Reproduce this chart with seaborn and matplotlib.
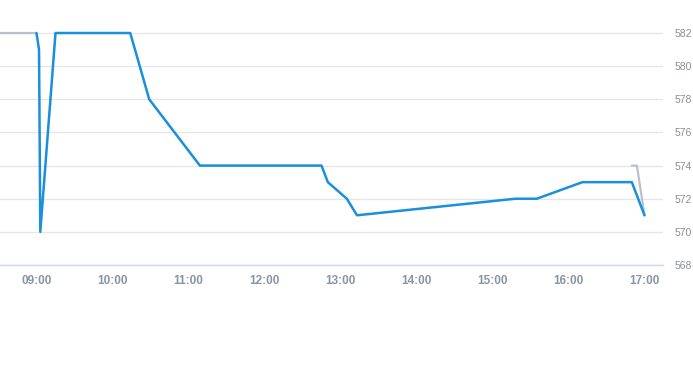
import matplotlib
matplotlib.use("Agg")
import matplotlib.pyplot as plt
import matplotlib.dates as mdates
import seaborn as sns
import pandas as pd

# Main (blue) series
main_times = ["09:00", "09:02", "09:03", "09:15", "10:14", "10:29", "10:49", "11:09",
              "12:45", "12:50", "13:05", "13:13", "15:18", "15:35", "16:11", "16:50", "17:00"]
main_values = [582, 581, 570, 582, 582, 578, 576, 574,
               574, 573, 572, 571, 572, 572, 573, 573, 571]

# Grey reference segments
grey_pre_times = ["08:00", "09:00"]
grey_pre_values = [582, 582]
grey_post_times = ["16:50", "16:54", "17:00"]
grey_post_values = [574, 574, 571]

y_ticks = [568, 570, 572, 574, 576, 578, 580, 582]
x_ticks = ["09:00", "10:00", "11:00", "12:00", "13:00", "14:00", "15:00", "16:00", "17:00"]

day = "2024-01-02 "
def to_dt(lst):
    return pd.to_datetime([day + t for t in lst])

main_df = pd.DataFrame({"time": to_dt(main_times), "value": main_values})
pre_df = pd.DataFrame({"time": to_dt(grey_pre_times), "value": grey_pre_values})
post_df = pd.DataFrame({"time": to_dt(grey_post_times), "value": grey_post_values})

sns.set_style("white")
plt.rcParams['font.family'] = ['Liberation Sans', 'DejaVu Sans']

fig = plt.figure(figsize=(6.93, 3.65), dpi=100)
ax = fig.add_axes([0, 100 / 365, 663 / 693, 265 / 365])

grey = "#b8c2cf"
blue = "#1a8fdc"
sns.lineplot(data=pre_df, x="time", y="value", ax=ax, color=grey, linewidth=1.6)
sns.lineplot(data=post_df, x="time", y="value", ax=ax, color=grey, linewidth=1.6)
sns.lineplot(data=main_df, x="time", y="value", ax=ax, color=blue, linewidth=1.8)

t9 = pd.Timestamp(day + "09:00")
hour = pd.Timedelta(hours=1)
ax.set_xlim(t9 - hour * (36.5 / 76), t9 + hour * (8 + 18.5 / 76))
ax.set_ylim(568, 568 + 265 / 16.57)

ax.set_yticks(y_ticks)
ax.set_xticks(to_dt(x_ticks))
ax.xaxis.set_major_formatter(mdates.DateFormatter("%H:%M"))
ax.yaxis.tick_right()
ax.set_xlabel("")
ax.set_ylabel("")

ax.grid(axis="y", color="#e6e6e6", linewidth=1)
ax.grid(axis="x", visible=False)
for s in ["top", "left", "right"]:
    ax.spines[s].set_visible(False)
ax.spines["bottom"].set_color("#ccd6eb")
ax.spines["bottom"].set_linewidth(1)

ax.tick_params(axis="x", colors="#ccd6eb", length=5, width=1, pad=2,
               labelcolor="#8a95a2", labelsize=8.5)
for lbl in ax.get_xticklabels():
    lbl.set_fontweight("bold")
ax.tick_params(axis="y", length=0, pad=8.5, labelcolor="#8a8f96", labelsize=7.5)

fig.savefig("out.png", dpi=100)
